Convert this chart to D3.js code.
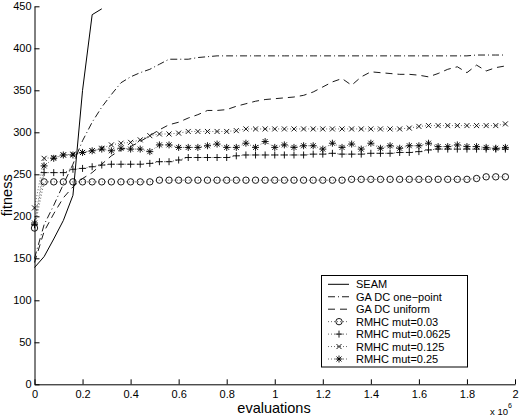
<!DOCTYPE html>
<html>
<head>
<meta charset="utf-8">
<script src="https://cdn.jsdelivr.net/npm/d3@7"></script>
<style>
body { margin: 0; background: #fff; }
svg { font-family: "Liberation Sans", Arial, sans-serif; }
</style>
</head>
<body>
<div id="chart"></div>
<script>
// evaluations, in units of 10^6
var evals = [0, 0.04, 0.08, 0.12, 0.16, 0.2, 0.24, 0.28, 0.32, 0.36,
    0.4, 0.44, 0.48, 0.52, 0.56, 0.6, 0.64, 0.68, 0.72, 0.76,
    0.8, 0.84, 0.88, 0.92, 0.96, 1, 1.04, 1.08, 1.12, 1.16,
    1.2, 1.24, 1.28, 1.32, 1.36, 1.4, 1.44, 1.48, 1.52, 1.56,
    1.6, 1.64, 1.68, 1.72, 1.76, 1.8, 1.84, 1.88, 1.92, 1.96];

var seamEvals = [0, 0.04, 0.08, 0.12, 0.16, 0.2, 0.24, 0.28];
var seam = [139, 152, 173, 195, 225, 350, 440, 447];

var gaOnePoint = [150, 190, 213, 238, 262, 290, 312, 330, 345, 359,
    366, 371, 375, 381, 387, 387, 387, 389, 390, 391,
    391, 391, 391, 391, 391, 391, 391, 391, 391, 391,
    391, 391, 391, 391, 391, 391, 391, 391, 391, 391,
    391, 391, 391, 391, 391, 391, 392, 392, 392, 392];

var gaUniform = [145, 182, 203, 222, 235, 245, 252, 262, 272, 279,
    283, 289, 296, 303, 309, 312, 317, 321, 326, 326,
    327, 331, 334, 337, 339, 340, 341, 342, 344, 348,
    354, 360, 364, 356, 366, 372, 371, 370, 369, 369,
    368, 366, 370, 375, 378, 371, 380, 373, 377, 379];

var rmhc003 = [186, 241, 241, 241, 241, 241, 241, 241, 241, 241,
    241, 241, 241, 243, 243, 243, 243, 243, 243, 243,
    243, 243, 243, 243, 243, 243, 243, 243, 243, 243,
    243, 243, 243, 244, 244, 244, 244, 244, 244, 244,
    244, 244, 244, 244, 244, 244, 245, 247, 247, 247];

var rmhc00625 = [190, 252, 252, 252, 256, 257, 259, 261, 262, 262,
    262, 262, 263, 265, 265, 267, 270, 270, 270, 270,
    270, 272, 273, 273, 273, 273, 273, 273, 273, 274,
    274, 275, 274, 274, 274, 275, 275, 275, 276, 276,
    277, 279, 280, 280, 280, 280, 280, 280, 280, 280];

var rmhc0125 = [210, 269, 270, 273, 274, 276, 278, 281, 285, 287,
    288, 291, 296, 298, 298, 299, 301, 301, 301, 301,
    301, 302, 304, 304, 304, 304, 304, 304, 304, 304,
    304, 304, 304, 304, 304, 304, 304, 304, 304, 305,
    307, 308, 308, 308, 308, 308, 308, 308, 308, 310];

var rmhc025 = [192, 260, 269, 273, 273, 276, 278, 280, 278, 281,
    280, 280, 277, 285, 285, 282, 282, 282, 284, 286,
    282, 282, 287, 282, 289, 282, 285, 282, 284, 284,
    280, 287, 282, 286, 280, 287, 281, 284, 281, 284,
    284, 287, 283, 283, 285, 283, 283, 282, 281, 282];

var legendLabels = ["SEAM", "GA DC one\u2212point", "GA DC uniform",
    "RMHC mut=0.03", "RMHC mut=0.0625", "RMHC mut=0.125", "RMHC mut=0.25"];

var xTicks = [0, 0.2, 0.4, 0.6, 0.8, 1, 1.2, 1.4, 1.6, 1.8, 2];
var yTicks = [0, 50, 100, 150, 200, 250, 300, 350, 400, 450];

var width = 526, height = 416;

var svg = d3.select("#chart").append("svg")
    .attr("width", width)
    .attr("height", height);

var x = d3.scaleLinear().domain([0, 2]).range([34.5, 515]);
var y = d3.scaleLinear().domain([0, 450]).range([384.3, 6.3]);

// marker shapes
function markerPath(type) {
    if (type === "o") return "M3.2,0A3.2,3.2 0 1,1 -3.2,0A3.2,3.2 0 1,1 3.2,0Z";
    if (type === "+") return "M-3.5,0H3.5M0,-3.5V3.5";
    if (type === "x") return "M-2.5,-2.5L2.5,2.5M-2.5,2.5L2.5,-2.5";
    if (type === "*") return "M-3.5,0H3.5M0,-3.5V3.5M-2.5,-2.5L2.5,2.5M-2.5,2.5L2.5,-2.5";
    return "";
}

var series = [
    { xs: seamEvals, ys: seam, dash: null, width: 1, marker: null },
    { xs: evals, ys: gaOnePoint, dash: "7,3,1,3", width: 0.9, marker: null },
    { xs: evals, ys: gaUniform, dash: "7,5", width: 0.9, marker: null },
    { xs: evals, ys: rmhc003, dash: "1,2", width: 0.6, marker: "o" },
    { xs: evals, ys: rmhc00625, dash: "1,2", width: 0.6, marker: "+" },
    { xs: evals, ys: rmhc0125, dash: "1,2", width: 0.6, marker: "x" },
    { xs: evals, ys: rmhc025, dash: "1,2", width: 0.6, marker: "*" }
];

var line = d3.line()
    .x(function (d) { return x(d[0]); })
    .y(function (d) { return y(d[1]); });

series.forEach(function (s) {
    var pts = s.xs.map(function (v, i) { return [v, s.ys[i]]; });
    svg.append("path")
        .attr("d", line(pts))
        .attr("fill", "none")
        .attr("stroke", "#000")
        .attr("stroke-width", s.width)
        .attr("stroke-dasharray", s.dash);
    if (s.marker) {
        svg.append("g").selectAll("path")
            .data(pts)
            .enter().append("path")
            .attr("transform", function (d) {
                return "translate(" + x(d[0]) + "," + y(d[1]) + ")";
            })
            .attr("d", markerPath(s.marker))
            .attr("fill", "none")
            .attr("stroke", "#000")
            .attr("stroke-width", 0.9);
    }
});

// axes, ticks pointing inward
var xAxis = svg.append("g")
    .attr("transform", "translate(0,384.3)")
    .call(d3.axisBottom(x).tickValues(xTicks).tickSize(-5).tickSizeOuter(0)
        .tickPadding(5.5).tickFormat(d3.format("~g")));

var yAxis = svg.append("g")
    .attr("transform", "translate(34.5,0)")
    .call(d3.axisLeft(y).tickValues(yTicks).tickSize(-5).tickSizeOuter(0)
        .tickPadding(3));

[xAxis, yAxis].forEach(function (a) {
    a.selectAll("path, line").attr("stroke", "#000").attr("stroke-width", 1);
    a.selectAll("text").attr("font-size", 11).attr("fill", "#000")
        .attr("font-family", "Liberation Sans, Arial, sans-serif");
});

svg.append("text")
    .attr("x", 274)
    .attr("y", 413)
    .attr("text-anchor", "middle")
    .attr("font-size", 14.5)
    .text("evaluations");

svg.append("text")
    .attr("transform", "translate(12,195.3) rotate(-90)")
    .attr("text-anchor", "middle")
    .attr("font-size", 14.5)
    .text("fitness");

var expo = svg.append("text")
    .attr("x", 490)
    .attr("y", 415)
    .attr("font-size", 9.5);
expo.append("tspan").text("x 10");
expo.append("tspan").attr("dy", -7).attr("font-size", 7).text("6");

// legend
var legend = svg.append("g");
legend.append("rect")
    .attr("x", 321.5).attr("y", 275.5)
    .attr("width", 146).attr("height", 91.5)
    .attr("fill", "#fff").attr("stroke", "#000").attr("stroke-width", 1);

var rows = legend.selectAll("g.row")
    .data(series)
    .enter().append("g")
    .attr("class", "row")
    .attr("transform", function (d, i) {
        return "translate(0," + (284.3 + i * 12.45) + ")";
    });

rows.append("line")
    .attr("x1", 328).attr("x2", 349)
    .attr("stroke", "#000")
    .attr("stroke-width", function (d) { return d.width; })
    .attr("stroke-dasharray", function (d) { return d.dash; });

rows.filter(function (d) { return d.marker; })
    .append("path")
    .attr("transform", "translate(339,0)")
    .attr("d", function (d) { return markerPath(d.marker); })
    .attr("fill", "none")
    .attr("stroke", "#000")
    .attr("stroke-width", 0.9);

rows.append("text")
    .attr("x", 356)
    .attr("dy", "0.36em")
    .attr("font-size", 11)
    .text(function (d, i) { return legendLabels[i]; });
</script>
</body>
</html>
